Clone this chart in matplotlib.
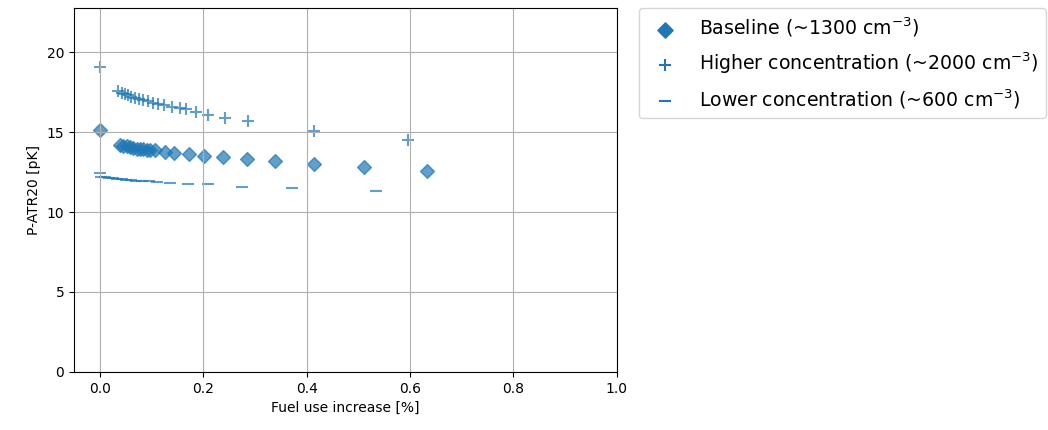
import matplotlib
matplotlib.use("Agg")
import matplotlib.pyplot as plt

# Fuel use increase [%] vs P-ATR20 [pK] for three particle concentrations
base_x = [0.0, 0.039, 0.045, 0.052, 0.058, 0.064, 0.072, 0.078, 0.083, 0.091,
          0.097, 0.107, 0.126, 0.143, 0.172, 0.202, 0.238, 0.284, 0.339, 0.415,
          0.510, 0.632]
base_y = [15.12, 14.2, 14.15, 14.1, 14.05, 14.0, 13.97, 13.95, 13.92, 13.9,
          13.88, 13.85, 13.75, 13.72, 13.6, 13.5, 13.42, 13.3, 13.22, 13.0,
          12.84, 12.58]

high_x = [0.0, 0.035, 0.042, 0.048, 0.055, 0.061, 0.068, 0.076, 0.083, 0.093,
          0.103, 0.113, 0.124, 0.139, 0.155, 0.166, 0.186, 0.210, 0.242, 0.287,
          0.415, 0.596]
high_y = [19.05, 17.55, 17.45, 17.38, 17.3, 17.22, 17.15, 17.07, 17.0, 16.92,
          16.85, 16.77, 16.68, 16.58, 16.48, 16.42, 16.28, 16.1, 15.88, 15.67,
          15.08, 14.5]

low_x = [0.0, 0.002, 0.01, 0.018, 0.026, 0.034, 0.042, 0.05, 0.06, 0.07,
         0.082, 0.095, 0.11, 0.136, 0.17, 0.21, 0.274, 0.371, 0.535]
low_y = [12.42, 12.22, 12.18, 12.14, 12.1, 12.07, 12.04, 12.02, 11.99, 11.97,
         11.95, 11.93, 11.91, 11.83, 11.77, 11.74, 11.56, 11.48, 11.32]

labels = ["Baseline (~1300 cm$^{-3}$)",
          "Higher concentration (~2000 cm$^{-3}$)",
          "Lower concentration (~600 cm$^{-3}$)"]

fig = plt.figure(figsize=(10.48, 4.3), dpi=100)
ax = fig.add_axes([0.0706, 0.135, 0.518, 0.846])

ax.scatter(base_x, base_y, marker="D", color="C0", alpha=0.7, s=50, label=labels[0])
ax.scatter(high_x, high_y, marker="+", color="C0", alpha=0.7, s=70, label=labels[1])
ax.scatter(low_x, low_y, marker="_", color="C0", alpha=0.7, s=70, label=labels[2])

ax.set_xlim(-0.05, 1.0)
ax.set_ylim(0, 22.75)
ax.set_yticks([0, 5, 10, 15, 20])
ax.set_xlabel("Fuel use increase [%]")
ax.set_ylabel("P-ATR20 [pK]")
ax.grid(True)

leg = ax.legend(loc="upper left", bbox_to_anchor=(1.04, 1.0), borderaxespad=0,
                fontsize=13.6, markerscale=1.1, labelspacing=0.6)
for h in leg.legend_handles:
    h.set_alpha(1.0)

fig.savefig("out.png", dpi=100)
